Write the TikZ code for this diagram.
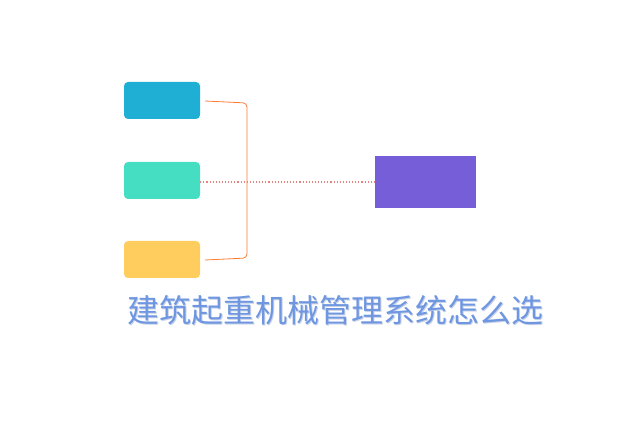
\documentclass[tikz,border=0pt]{standalone}
\usepackage{fontspec}
\newfontfamily\cjk{Noto Sans CJK SC}
\begin{document}
\begin{tikzpicture}[x=1pt,y=-1pt,
  box/.style={rounded corners=4pt,minimum width=76pt,minimum height=37pt,inner sep=0pt},
  br/.style={draw=orange!70!red!80!white,line width=0.8pt},
  ttl/.style={font=\cjk\fontsize{32}{32}\selectfont}]
\useasboundingbox (0,0) rectangle (640,427);
\node[box,fill={rgb,255:red,31;green,174;blue,212}] (a) at (162,100.5) {};
\node[box,fill={rgb,255:red,69;green,222;blue,195}] (b) at (162,180.5) {};
\node[box,fill={rgb,255:red,255;green,205;blue,94}] (c) at (162,259.5) {};
\node[minimum width=101pt,minimum height=52pt,inner sep=0pt,fill={rgb,255:red,118;green,94;blue,216}] (p) at (425.5,182) {};
\coordinate (t1) at (205,101);
\coordinate (t2) at (205,260);
\draw[br,rounded corners=4pt] (t1) -- (247,103) -- (247,258) -- (t2);
\draw[draw={rgb,255:red,230;green,130;blue,130},line width=1.1pt,dotted] (b.east |- p.west) -- (p.west);
\node[ttl,text={rgb,255:red,200;green,210;blue,230}] at (336.5,311.5) {建筑起重机械管理系统怎么选};
\node[ttl,text={rgb,255:red,110;green,150;blue,225}] (title) at (335,310) {建筑起重机械管理系统怎么选};
\end{tikzpicture}
\end{document}
